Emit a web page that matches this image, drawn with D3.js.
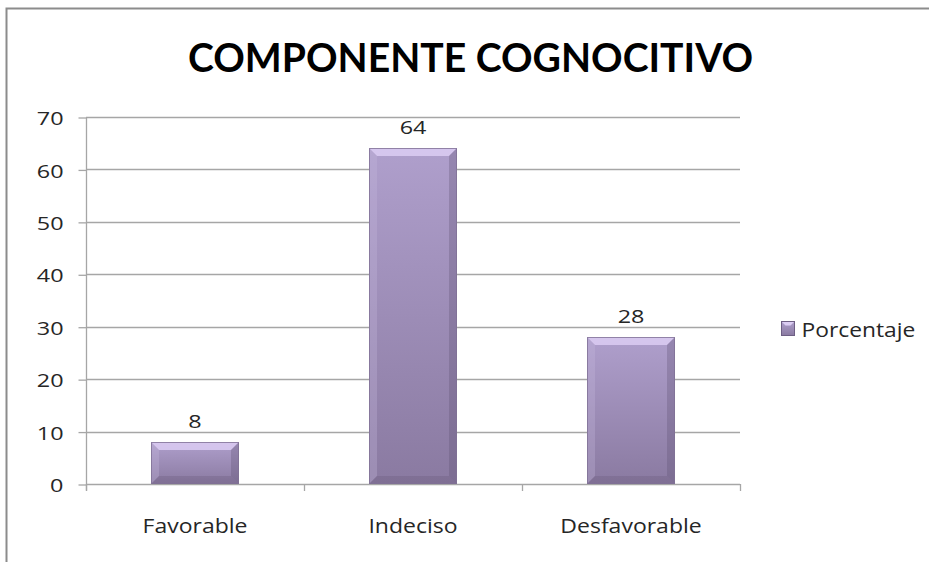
<!DOCTYPE html>
<html>
<head>
<meta charset="utf-8">
<script src="https://cdn.jsdelivr.net/npm/d3@7"></script>
<style>
  body { margin: 0; background: #fff; }
  text { font-family: "Open Sans", "DejaVu Sans", sans-serif; }
</style>
</head>
<body>
<script>
// Données
const categories = ["Favorable", "Indeciso", "Desfavorable"];
const values = [8, 64, 28];
const seriesName = "Porcentaje";
const yTicks = [0, 10, 20, 30, 40, 50, 60, 70];
const title = "COMPONENTE COGNOCITIVO";

// Paramètres
const width = 929;
const height = 562;
const margin = { top: 117, right: 189, bottom: 78, left: 86 };
const barWidth = 88;
const bevel = 8;
const textColor = '#262626';

const svg = d3.select('body')
  .append('svg')
  .attr('width', width)
  .attr('height', height);

// Cadre du graphique
svg.append('path')
  .attr('d', `M6.5,${height} V8.5 H${width}`)
  .attr('fill', 'none')
  .attr('stroke', '#8c8c8c')
  .attr('stroke-width', 2);

const x = d3.scaleBand()
  .domain(categories)
  .range([margin.left, width - margin.right]);

const y = d3.scaleLinear()
  .domain([0, 70])
  .range([height - margin.bottom, margin.top]);

// Dégradé des barres
const defs = svg.append('defs');
const grad = defs.append('linearGradient')
  .attr('id', 'barGrad')
  .attr('x1', 0).attr('y1', 0).attr('x2', 0).attr('y2', 1);
grad.append('stop').attr('offset', '0%').attr('stop-color', '#af9fcc');
grad.append('stop').attr('offset', '100%').attr('stop-color', '#8a7aa1');

// Lignes de quadrillage
svg.append('g')
  .selectAll('line')
  .data(yTicks)
  .join('line')
  .attr('x1', margin.left)
  .attr('x2', width - margin.right)
  .attr('y1', d => Math.round(y(d)) + 0.5)
  .attr('y2', d => Math.round(y(d)) + 0.5)
  .attr('stroke', '#a6a6a6')
  .attr('stroke-width', 1.3);

// Axe vertical
const sy = 1.3;
svg.append('g')
  .attr('transform', `translate(${margin.left + 0.5}, 0.5)`)
  .call(d3.axisLeft(y).tickValues(yTicks).tickSize(8))
  .call(g => g.selectAll('line, path').attr('stroke', '#a6a6a6').attr('stroke-width', 1.3))
  .call(g => g.select('.domain').attr('d', `M-0,${y(70)}V${y(0) + 6}`))
  .call(g => g.selectAll('text')
    .attr('x', -23 / sy)
    .attr('dy', '0.4em')
    .attr('transform', `scale(${sy},1)`)
    .attr('fill', textColor)
    .style('font-size', '18px')
    .style('font-family', '"Open Sans", sans-serif'));

// Axe horizontal : graduations aux bords des catégories
const edges = categories.map(c => x(c)).concat([x(categories[categories.length - 1]) + x.bandwidth()]);
svg.append('g')
  .selectAll('line')
  .data(edges)
  .join('line')
  .attr('x1', d => Math.round(d) + 0.5)
  .attr('x2', d => Math.round(d) + 0.5)
  .attr('y1', y(0))
  .attr('y2', y(0) + 7)
  .attr('stroke', '#a6a6a6')
  .attr('stroke-width', 1.3);

svg.append('g')
  .selectAll('text')
  .data(categories)
  .join('text')
  .attr('transform', d => `translate(${x(d) + x.bandwidth() / 2}, ${y(0) + 49}) scale(1.15,1)`)
  .attr('text-anchor', 'middle')
  .attr('fill', textColor)
  .style('font-size', '20px')
  .text(d => d);

// Barres
const data = categories.map((c, i) => ({ name: c, value: values[i] }));
const bars = svg.append('g')
  .selectAll('g')
  .data(data)
  .join('g')
  .attr('transform', d => `translate(${Math.round(x(d.name) + x.bandwidth() / 2 - barWidth / 2)}, ${Math.round(y(d.value))})`);

bars.append('rect')
  .attr('width', barWidth)
  .attr('height', d => Math.round(y(0)) - Math.round(y(d.value)))
  .attr('fill', 'url(#barGrad)');

// Biseaux
const bevelFaces = [
  { side: 'top', fill: '#dccdf3', op: 0.85 },
  { side: 'left', fill: '#c6b8de', op: 0.3 },
  { side: 'right', fill: '#5e5071', op: 0.3 },
  { side: 'bottom', fill: '#5e5071', op: 0.25 }
];
bars.each(function (d) {
  const h = Math.round(y(0)) - Math.round(y(d.value));
  const w = barWidth;
  const b = bevel;
  const pts = {
    top: [[0, 0], [w, 0], [w - b, b], [b, b]],
    left: [[0, 0], [b, b], [b, h - b], [0, h]],
    right: [[w, 0], [w, h], [w - b, h - b], [w - b, b]],
    bottom: [[0, h], [b, h - b], [w - b, h - b], [w, h]]
  };
  d3.select(this).selectAll('polygon')
    .data(bevelFaces)
    .join('polygon')
    .attr('points', f => pts[f.side].map(p => p.join(',')).join(' '))
    .attr('fill', f => f.fill)
    .attr('opacity', f => f.op);
  d3.select(this).append('rect')
    .attr('x', 0.5).attr('y', 0.5)
    .attr('width', w - 1).attr('height', h - 1)
    .attr('fill', 'none')
    .attr('stroke', '#7f7095')
    .attr('stroke-opacity', 0.8)
    .attr('stroke-width', 1);
});

// Étiquettes de valeurs
svg.append('g')
  .selectAll('text')
  .data(data)
  .join('text')
  .attr('transform', d => `translate(${x(d.name) + x.bandwidth() / 2}, ${y(d.value) - 14}) scale(1.3,1)`)
  .attr('text-anchor', 'middle')
  .attr('fill', textColor)
  .style('font-size', '18px')
  .text(d => d.value);

// Titre
svg.append('text')
  .attr('x', 470.5)
  .attr('y', 72)
  .attr('text-anchor', 'middle')
  .attr('fill', '#000')
  .style('font-family', 'Lato, "Open Sans", sans-serif')
  .style('font-size', '40px')
  .style('font-weight', 'bold')
  .attr('textLength', 565)
  .attr('lengthAdjust', 'spacingAndGlyphs')
  .text(title);

// Légende
const legend = svg.append('g').attr('transform', 'translate(781.5, 321.5)');
legend.append('rect')
  .attr('width', 13).attr('height', 14)
  .attr('fill', 'url(#barGrad)')
  .attr('stroke', '#6e5f84');
legend.append('polygon')
  .attr('points', '0.5,0.5 12.5,0.5 9,4 4,4')
  .attr('fill', '#dccdf3');
legend.append('text')
  .attr('transform', 'translate(20, 15) scale(1.14,1)')
  .attr('fill', textColor)
  .style('font-size', '20px')
  .text(seriesName);
</script>
</body>
</html>
